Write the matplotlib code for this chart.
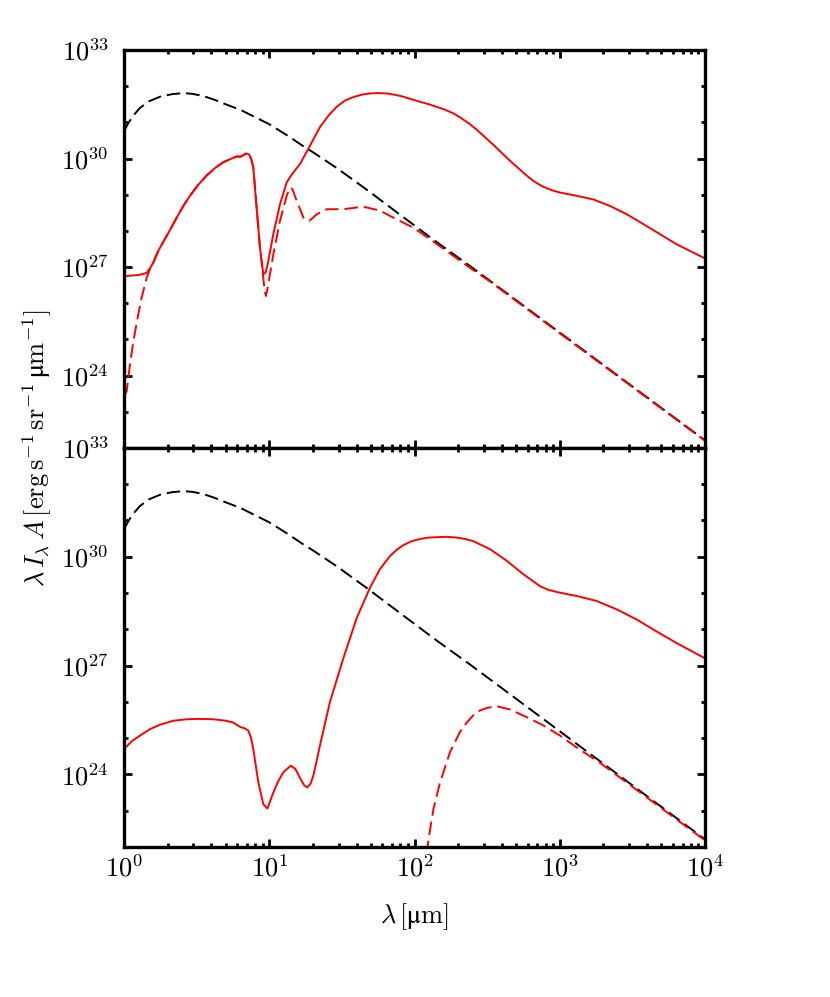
import numpy as np
import matplotlib
matplotlib.use("Agg")
from matplotlib import pyplot as plt
from matplotlib.ticker import LogLocator, FuncFormatter, NullFormatter

plt.rcParams['mathtext.fontset'] = 'cm'
plt.rcParams['font.family'] = 'serif'
plt.rcParams['font.serif'] = ['DejaVu Serif']

# log10 of wavelength [um] and log10 of lambda I_lambda A
star_lx = [0.0, 0.03, 0.06, 0.110, 0.17, 0.248, 0.33, 0.408, 0.47, 0.546, 0.62,
           0.707, 0.80, 0.890, 1.0, 1.12, 1.235, 1.303, 1.464, 1.671, 1.923,
           2.153, 2.382, 2.52, 3.0, 4.0]
star_ly = [30.76, 30.98, 31.17, 31.40, 31.58, 31.71, 31.78, 31.81, 31.79, 31.73,
           31.63, 31.49, 31.35, 31.17, 30.95, 30.65, 30.34, 30.17, 29.74, 29.14,
           28.38, 27.69, 27.03, 26.62, 25.19, 22.21]

top_tot_lx = [0.0, 0.10, 0.156, 0.179, 0.202, 0.213, 0.236, 0.271, 0.32, 0.363,
              0.41, 0.454, 0.51, 0.569, 0.63, 0.684, 0.776, 0.800, 0.820, 0.840,
              0.860, 0.875, 0.890, 0.913, 0.936, 0.959, 0.975, 0.990, 1.028,
              1.074, 1.120, 1.155, 1.212, 1.269, 1.349, 1.410, 1.464, 1.520,
              1.579, 1.640, 1.694, 1.750, 1.809, 1.870, 1.923, 1.98, 2.038,
              2.10, 2.153, 2.21, 2.267, 2.313, 2.382, 2.428, 2.543, 2.657,
              2.772, 2.83, 2.887, 2.95, 3.002, 3.117, 3.231, 3.346, 3.461,
              3.575, 3.690, 3.805, 3.920, 4.0]
top_tot_ly = [26.75, 26.78, 26.84, 26.97, 27.12, 27.25, 27.45, 27.70, 28.05, 28.37,
              28.70, 28.97, 29.27, 29.53, 29.75, 29.90, 30.06, 30.05, 30.09, 30.14,
              30.12, 30.00, 29.76, 28.65, 27.54, 26.80, 26.85, 27.10, 27.91,
              28.74, 29.34, 29.56, 29.85, 30.27, 30.87, 31.20, 31.43, 31.60,
              31.70, 31.77, 31.80, 31.81, 31.80, 31.76, 31.71, 31.64, 31.57,
              31.50, 31.43, 31.35, 31.25, 31.14, 30.95, 30.80, 30.38, 29.94,
              29.53, 29.35, 29.22, 29.12, 29.06, 28.97, 28.87, 28.69, 28.46,
              28.19, 27.91, 27.63, 27.40, 27.24]

top_dir_lx = [0.0, 0.018, 0.041, 0.064, 0.098, 0.121, 0.156, 0.179, 0.213, 0.236,
              0.271, 0.32, 0.363, 0.41, 0.454, 0.51, 0.569, 0.63, 0.684, 0.776,
              0.800, 0.820, 0.840, 0.860, 0.875, 0.890, 0.913, 0.936, 0.959,
              0.968, 0.977, 0.990, 1.028, 1.074, 1.120, 1.143, 1.160, 1.189,
              1.235, 1.276, 1.300, 1.327, 1.396, 1.510, 1.648, 1.762, 1.877,
              1.992, 2.107, 2.222, 2.382, 2.52, 3.0, 4.0]
top_dir_ly = [23.45, 23.56, 24.30, 24.94, 25.69, 26.15, 26.70, 26.95, 27.22, 27.45,
              27.70, 28.05, 28.37, 28.70, 28.97, 29.27, 29.53, 29.75, 29.90, 30.06,
              30.05, 30.09, 30.14, 30.12, 30.00, 29.76, 28.65, 27.54, 26.70,
              26.35, 26.20, 26.45, 27.35, 28.28, 28.97, 29.20, 29.15, 28.83,
              28.37, 28.28, 28.36, 28.46, 28.60, 28.60, 28.67, 28.56, 28.32,
              28.09, 27.77, 27.44, 26.98, 26.60, 25.17, 22.20]

bot_tot_lx = [0.0, 0.055, 0.110, 0.18, 0.248, 0.34, 0.431, 0.52, 0.615, 0.700,
              0.752, 0.780, 0.799, 0.830, 0.856, 0.875, 0.890, 0.925, 0.959,
              0.987, 1.005, 1.028, 1.060, 1.097, 1.148, 1.180, 1.212, 1.240,
              1.262, 1.285, 1.303, 1.325, 1.349, 1.418, 1.510, 1.602, 1.694,
              1.762, 1.831, 1.88, 1.923, 1.98, 2.038, 2.10, 2.153, 2.22, 2.290,
              2.35, 2.405, 2.520, 2.635, 2.749, 2.864, 2.92, 2.979, 3.05, 3.117,
              3.254, 3.392, 3.530, 3.667, 3.805, 3.977, 4.0]
bot_tot_ly = [24.70, 24.92, 25.07, 25.25, 25.37, 25.48, 25.52, 25.53, 25.52, 25.48,
              25.43, 25.36, 25.31, 25.27, 25.21, 25.00, 24.70, 23.78, 23.18,
              23.06, 23.25, 23.50, 23.80, 24.06, 24.24, 24.15, 23.90, 23.70,
              23.64, 23.75, 23.96, 24.35, 24.80, 26.00, 27.20, 28.31, 29.15,
              29.66, 30.02, 30.20, 30.32, 30.43, 30.49, 30.53, 30.54, 30.55, 30.53,
              30.49, 30.43, 30.21, 29.89, 29.52, 29.19, 29.09, 29.03, 28.97, 28.92,
              28.78, 28.55, 28.27, 27.94, 27.62, 27.25, 27.20]

bot_dir_lx = [2.084, 2.096, 2.130, 2.176, 2.244, 2.313, 2.36, 2.405, 2.45, 2.497,
              2.566, 2.657, 2.772, 2.887, 3.002, 3.139, 3.277, 3.5, 4.0]
bot_dir_ly = [21.80, 22.20, 23.04, 23.78, 24.61, 25.17, 25.43, 25.63, 25.76, 25.83,
              25.88, 25.79, 25.58, 25.35, 25.07, 24.68, 24.32, 23.66, 22.18]


def pw(a):
    return 10.0 ** np.array(a)


fig = plt.figure(figsize=(8.3, 9.97), dpi=100)
ax1 = fig.add_axes([0.1494, 0.5507, 0.70, 0.3991])
ax2 = fig.add_axes([0.1494, 0.1505, 0.70, 0.4002])

lw = 1.4
dash = (7, 3)
fs = 19

panels = [(ax1, top_tot_lx, top_tot_ly, top_dir_lx, top_dir_ly),
          (ax2, bot_tot_lx, bot_tot_ly, bot_dir_lx, bot_dir_ly)]

for ax, tx, ty, dx, dy in panels:
    ax.plot(pw(star_lx), pw(star_ly), color='black', lw=lw, dashes=dash)
    ax.plot(pw(dx), pw(dy), color='red', lw=lw, dashes=dash)
    ax.plot(pw(tx), pw(ty), color='red', lw=lw)
    ax.set_xscale('log')
    ax.set_yscale('log')
    ax.set_xlim(1, 1e4)
    ax.set_ylim(1e22, 1e33)
    ax.yaxis.set_major_locator(plt.FixedLocator([1e24, 1e27, 1e30, 1e33]))
    ax.yaxis.set_minor_locator(plt.FixedLocator([10.0 ** k for k in range(22, 34)]))
    ax.yaxis.set_minor_formatter(NullFormatter())
    ax.xaxis.set_major_locator(plt.FixedLocator([1, 10, 100, 1000, 10000]))
    ax.xaxis.set_minor_locator(LogLocator(base=10, subs=np.arange(2, 10), numticks=20))
    ax.xaxis.set_minor_formatter(NullFormatter())
    fmt = FuncFormatter(lambda v, p: r'$10^{%d}$' % int(round(np.log10(v))))
    ax.xaxis.set_major_formatter(fmt)
    ax.yaxis.set_major_formatter(fmt)
    ax.tick_params(which='both', direction='in', top=True, right=True,
                   width=2.0, labelsize=fs)
    ax.tick_params(axis='x', pad=6)
    ax.tick_params(axis='y', pad=11)
    ax.tick_params(which='major', length=5.5)
    ax.tick_params(which='minor', length=2.8)
    for s in ax.spines.values():
        s.set_linewidth(2.4)

ax1.tick_params(labelbottom=False)

fig.text(414.5 / 830, 1 - 917 / 997, r'$\lambda\,[\mathrm{μm}]$',
         ha='center', va='center', fontsize=fs)
fig.text(37 / 830, 1 - 448 / 997,
         r'$\lambda\,I_\lambda\,A\,[\mathrm{erg\,s^{-1}\,sr^{-1}\,μm^{-1}}]$',
         rotation=90, ha='center', va='center', fontsize=fs)

fig.savefig('out.png', dpi=100)
